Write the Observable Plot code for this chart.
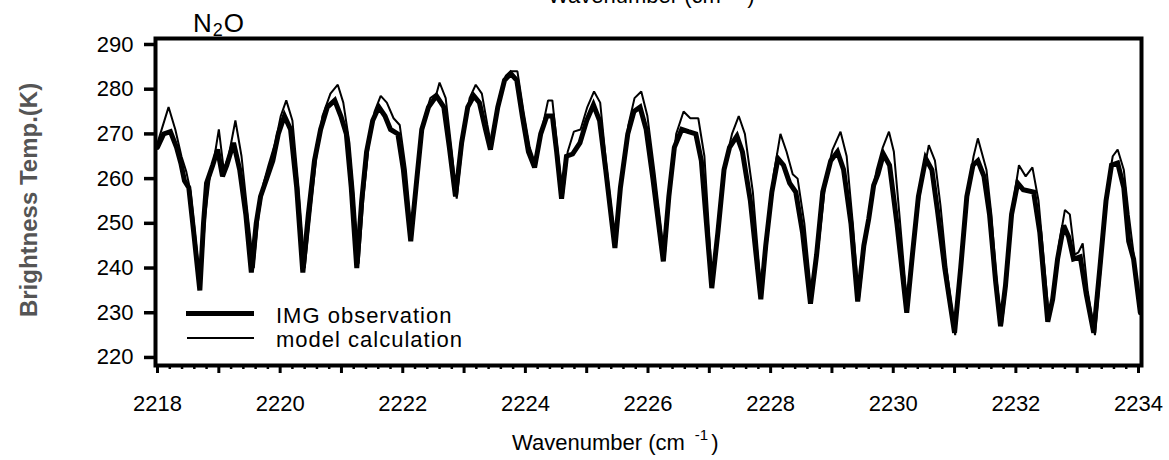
<!DOCTYPE html>
<html><head><meta charset="utf-8">
<script src="https://cdn.jsdelivr.net/npm/d3@7"></script>
<script src="https://cdn.jsdelivr.net/npm/@observablehq/plot@0.6"></script>
<style>
html,body{margin:0;padding:0;background:#fff;}
#wrap{position:relative;width:1169px;height:460px;overflow:hidden;}
</style></head><body><div id="wrap"></div>
<script>
// IMG observation (thick line)
const obsWn = [2218.00,2218.10,2218.21,2218.31,2218.38,2218.44,2218.51,2218.59,2218.69,2218.75,
2218.80,2218.90,2218.98,2219.06,2219.13,2219.24,2219.34,2219.44,2219.53,2219.61,
2219.68,2219.78,2219.88,2219.97,2220.07,2220.17,2220.27,2220.37,2220.46,2220.56,
2220.66,2220.77,2220.89,2220.99,2221.08,2221.16,2221.25,2221.33,2221.41,2221.51,
2221.61,2221.71,2221.80,2221.92,2222.01,2222.13,2222.23,2222.31,2222.42,2222.55,
2222.67,2222.76,2222.86,2222.96,2223.06,2223.16,2223.25,2223.35,2223.43,2223.55,
2223.66,2223.76,2223.86,2223.95,2224.05,2224.15,2224.25,2224.35,2224.44,2224.51,
2224.59,2224.67,2224.77,2224.89,2225.00,2225.11,2225.21,2225.31,2225.46,2225.55,
2225.67,2225.77,2225.87,2225.97,2226.08,2226.25,2226.34,2226.43,2226.55,2226.66,
2226.78,2226.87,2227.04,2227.14,2227.24,2227.33,2227.45,2227.54,2227.67,2227.84,
2227.92,2228.02,2228.12,2228.21,2228.31,2228.41,2228.52,2228.65,2228.75,2228.85,
2228.98,2229.09,2229.19,2229.31,2229.42,2229.52,2229.60,2229.68,2229.75,2229.84,
2229.94,2230.06,2230.22,2230.32,2230.41,2230.53,2230.63,2230.72,2230.84,2231.00,
2231.10,2231.20,2231.30,2231.38,2231.48,2231.57,2231.67,2231.75,2231.83,2231.93,
2232.03,2232.12,2232.29,2232.39,2232.52,2232.60,2232.68,2232.78,2232.86,2232.94,
2233.05,2233.15,2233.27,2233.37,2233.47,2233.56,2233.66,2233.76,2233.84,2233.92,
2234.03];
const obsT = [267,270,270.5,267,263.5,259.5,258,248,235,250,
259,263,266.5,260.5,263,268,262,252,239,250,
256,260,264,270,274,271,258,239,252,264,
271,276,277.5,274,270,258,240,255,266,273,
276,274,271,270,262,246,260,271,276,278.5,
276,267,256,268,276,278.5,277,271,266.5,276,
282,283.5,282,274,266,262.5,270,274,274,266,
255.5,265,265.5,268,273,276.5,273,262,244.5,258,
270,275,276,271,260,241.5,256,267,271,270.5,
270,264,235.5,248,262,267,269.5,266,255,233,
245,257,264.5,263,259,257,248,232,243,257,
264,266,262,250,232.5,245,251,258.5,261,265.5,
263,250,230,244,256,264.5,262,253,240,225.5,
240,256,263,264,260.5,252,237,227,236,252,
259,257.5,257,248,228,233,242,249.5,247,242,
242.5,234,225.5,240,255,263,263.5,258,246,242,
230];

// model calculation (thin line)
const modWn = [2218.00,2218.18,2218.29,2218.39,2218.47,2218.54,2218.70,2218.78,2218.85,2218.93,
2219.00,2219.08,2219.16,2219.27,2219.37,2219.47,2219.57,2219.65,2219.73,2219.81,
2219.92,2220.01,2220.10,2220.20,2220.30,2220.40,2220.50,2220.59,2220.69,2220.82,
2220.94,2221.03,2221.13,2221.20,2221.28,2221.36,2221.44,2221.54,2221.64,2221.74,
2221.85,2221.95,2222.05,2222.15,2222.24,2222.34,2222.45,2222.55,2222.60,2222.70,
2222.80,2222.88,2222.98,2223.09,2223.19,2223.29,2223.38,2223.45,2223.56,2223.68,
2223.76,2223.87,2223.97,2224.07,2224.17,2224.27,2224.37,2224.44,2224.52,2224.61,
2224.69,2224.79,2224.90,2225.01,2225.12,2225.22,2225.32,2225.47,2225.56,2225.68,
2225.78,2225.89,2225.99,2226.11,2226.27,2226.35,2226.46,2226.58,2226.69,2226.82,
2226.92,2227.05,2227.15,2227.25,2227.37,2227.48,2227.58,2227.71,2227.85,2227.95,
2228.05,2228.16,2228.26,2228.36,2228.44,2228.55,2228.67,2228.79,2228.90,2229.01,
2229.14,2229.24,2229.34,2229.44,2229.54,2229.63,2229.73,2229.83,2229.93,2230.01,
2230.10,2230.23,2230.33,2230.45,2230.58,2230.68,2230.77,2230.87,2231.01,2231.11,
2231.21,2231.31,2231.38,2231.44,2231.52,2231.60,2231.68,2231.77,2231.85,2231.95,
2232.05,2232.16,2232.27,2232.37,2232.54,2232.62,2232.70,2232.80,2232.88,2232.96,
2233.02,2233.09,2233.17,2233.29,2233.39,2233.48,2233.58,2233.66,2233.76,2233.84,
2233.94,2234.03];
const modT = [268,276,271,265,261.5,257,236,252,260,265,
271,262,265,273,265,252,240,252,259,263,
268,274,277.5,273,258,240,253,265,274,279,
281,277,268,257,241,256,267,275,278.5,277,
273.5,272,262,247,262,273,278,279,281.5,278,
266,255.5,269,278,281,279,272,267,277,283,
284,284,275,267,263,271,277.5,277.5,267,256,
266,270.5,271,276,279.5,277,263,245,259,272,
278,279.5,274,261,242,257,270,275,273.5,273.5,
265,236,250,263,270,274,270,257,234,247,
261,270,266,261,260,250,233,246,260,266.5,
270.5,265,250,233,246,255,262,267,270.5,266,
252,231,246,258,267.5,264,254,240,225,242,
257,265,269,266,262,252,238,227,237,254,
263,260.5,262.5,255,229,235,245,253,252,243,
243.5,245.5,235,225,241,257,265,266.5,262,252,
241,230];

const xTickLabels = [2218,2220,2222,2224,2226,2228,2230,2232,2234];
const yTickLabels = [220,230,240,250,260,270,280,290];
const seriesNames = ["IMG observation","model calculation"];
const xTitle = "Wavenumber (cm";
const yTitle = "Brightness Temp.(K)";

const obs = obsWn.map((w,i)=>({wn:w, t:obsT[i]}));
const mod = modWn.map((w,i)=>({wn:w, t:modT[i]}));

const intTicks = d3.range(2218, 2234.5, 1);
const minorTicks = d3.range(2218, 2234.05, 0.2).filter(v => Math.abs(v-Math.round(v))>1e-6);

const FONT = '"Liberation Sans", Arial, sans-serif';

const chart = Plot.plot({
  width:1169, height:460,
  marginLeft:155, marginRight:28, marginTop:38, marginBottom:95,
  x:{domain:[2217.967,2234.049], axis:null},
  y:{domain:[218.2,291.34], axis:null},
  style:{fontFamily:FONT, background:"white", color:"black", overflow:"visible"},
  marks:[
    Plot.line(mod, {x:"wn", y:"t", stroke:"black", strokeWidth:2, strokeLinejoin:"miter", clip:true}),
    Plot.line(obs, {x:"wn", y:"t", stroke:"black", strokeWidth:5, strokeLinejoin:"miter", strokeMiterlimit:3, clip:true}),
    Plot.axisX({ticks:minorTicks, tickSize:4, tickFormat:()=>"", strokeWidth:2.5, label:null}),
    Plot.axisX({ticks:intTicks, tickSize:8, tickFormat:()=>"", strokeWidth:3, label:null}),
    Plot.axisX({ticks:xTickLabels, tickSize:0, tickPadding:30, fontSize:22, tickFormat:d=>String(d), label:null}),
    Plot.axisY({ticks:yTickLabels, tickSize:11, tickPadding:11, strokeWidth:3.5, fontSize:22, tickFormat:d=>String(d), label:null}),
    Plot.frame({strokeWidth:4})
  ]
});
document.getElementById("wrap").appendChild(chart);

const svg = d3.select(chart);
// y title
svg.append("text").attr("transform","translate(37,200) rotate(-90)")
  .attr("text-anchor","middle").attr("font-family",FONT).attr("font-size",24)
  .attr("font-weight","bold").attr("fill","#555").text(yTitle);
// x title (bottom and cropped copy at top)
function xt(x, y){
  const t = svg.append("text").attr("x",x).attr("y",y).attr("text-anchor","start")
    .attr("font-family",FONT).attr("font-size",22).attr("fill","black");
  t.append("tspan").text(xTitle);
  t.append("tspan").attr("dx",10).attr("dy",-10).attr("font-size",15).text("-1");
  t.append("tspan").attr("dx",3).attr("dy",10).text(")");
}
xt(512, 450);
xt(548, 3);
// N2O
const n2o = svg.append("text").attr("x",193).attr("y",32).attr("text-anchor","start")
  .attr("font-family",FONT).attr("font-size",26);
n2o.append("tspan").text("N");
n2o.append("tspan").attr("dx",1).attr("dy",4).attr("font-size",18).text("2");
n2o.append("tspan").attr("dx",1).attr("dy",-4).text("O");
// legend
const lg = svg.append("g").attr("text-anchor","start");
lg.append("line").attr("x1",186).attr("x2",254).attr("y1",313.5).attr("y2",313.5).attr("stroke","black").attr("stroke-width",5);
lg.append("line").attr("x1",187).attr("x2",254).attr("y1",338).attr("y2",338).attr("stroke","black").attr("stroke-width",2.2);
lg.append("text").attr("x",276).attr("y",323).attr("font-family",FONT).attr("font-size",22).attr("letter-spacing",1).text(seriesNames[0]);
lg.append("text").attr("x",276).attr("y",347).attr("font-family",FONT).attr("font-size",22).attr("letter-spacing",1).text(seriesNames[1]);
</script>
</body></html>
